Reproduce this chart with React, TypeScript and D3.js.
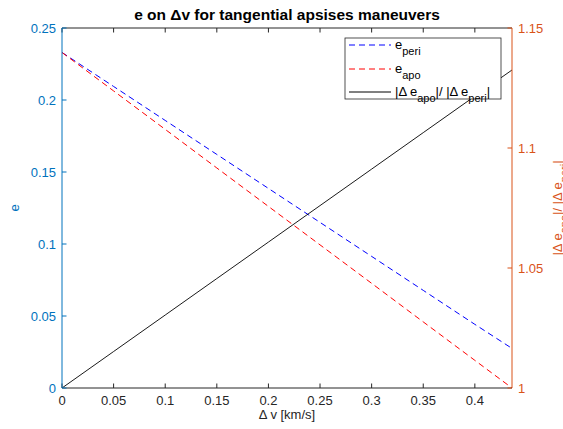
import React from 'react';
import * as d3 from 'd3';

// delta v [km/s]
const dv = [0, 0.05, 0.1, 0.15, 0.2, 0.25, 0.3, 0.35, 0.4, 0.436];
// eccentricity after perigee burn / apogee burn
const ePeri = [0.233, 0.2094, 0.1858, 0.1622, 0.1386, 0.115, 0.0914, 0.0678, 0.0442, 0.0275];
const eApo = [0.233, 0.2063, 0.1796, 0.1528, 0.1261, 0.0994, 0.0727, 0.0459, 0.0192, 0];
// ratio |de_apo| / |de_peri|
const ratio = [1, 1.0152, 1.0304, 1.0456, 1.0608, 1.076, 1.0912, 1.1064, 1.1216, 1.1325];

const xTicks = [0, 0.05, 0.1, 0.15, 0.2, 0.25, 0.3, 0.35, 0.4];
const yLeftTicks = [0, 0.05, 0.1, 0.15, 0.2, 0.25];
const yRightTicks = [1, 1.05, 1.1, 1.15];

const W = 563, H = 429;
const m = { left: 62, right: 512, top: 28, bottom: 388 };
const BLUE_AX = '#0072BD';
const ORANGE_AX = '#D95319';
const AX = '#262626';
const font = 'Liberation Sans, Arial, sans-serif';

export default function App() {
    const x = d3.scaleLinear().domain([0, 0.436]).range([m.left, m.right]);
    const yL = d3.scaleLinear().domain([0, 0.25]).range([m.bottom, m.top]);
    const yR = d3.scaleLinear().domain([1, 1.15]).range([m.bottom, m.top]);

    const lineL = (vals: number[]) =>
        d3.line<number>().x((_, i) => x(dv[i])).y(d => yL(d))(vals) as string;
    const lineR = d3.line<number>().x((_, i) => x(dv[i])).y(d => yR(d))(ratio) as string;

    const tk = 4.5;
    const fmt = (v: number) => String(v);

    // legend
    const lg = { x: 345, y: 38, w: 156, h: 61 };
    const rows = [45, 69, 92];

    return (
        <svg width={W} height={H} style={{ position: 'absolute', left: 0, top: 0, background: '#fff' }}
            fontFamily={font}>
            <rect width={W} height={H} fill="#fff" />
            <defs>
                <clipPath id="plot"><rect x={m.left} y={m.top} width={m.right - m.left} height={m.bottom - m.top} /></clipPath>
            </defs>

            {/* data */}
            <g clipPath="url(#plot)" fill="none">
                <path d={lineL(ePeri)} stroke="#0000FF" strokeWidth={1} strokeDasharray="6,4" />
                <path d={lineL(eApo)} stroke="#FF0000" strokeWidth={1} strokeDasharray="6,4" />
                <path d={lineR} stroke="#000" strokeWidth={0.9} />
            </g>

            {/* bottom & top axes */}
            <line x1={m.left} x2={m.right} y1={m.bottom} y2={m.bottom} stroke={AX} />
            <line x1={m.left} x2={m.right} y1={m.top} y2={m.top} stroke={AX} />
            {xTicks.map(t => (
                <g key={'x' + t}>
                    <line x1={x(t)} x2={x(t)} y1={m.bottom} y2={m.bottom - tk} stroke={AX} />
                    <line x1={x(t)} x2={x(t)} y1={m.top} y2={m.top + tk} stroke={AX} />
                    <text x={x(t)} y={m.bottom + 17} textAnchor="middle" fontSize={13} fill={AX}>{fmt(t)}</text>
                </g>
            ))}
            <text x={(m.left + m.right) / 2} y={419} textAnchor="middle" fontSize={13} fill={AX}>Δ v [km/s]</text>

            {/* left axis */}
            <line x1={m.left} x2={m.left} y1={m.top} y2={m.bottom} stroke={BLUE_AX} />
            {yLeftTicks.map(t => (
                <g key={'l' + t}>
                    <line x1={m.left} x2={m.left + tk} y1={yL(t)} y2={yL(t)} stroke={BLUE_AX} />
                    <text x={m.left - 6} y={yL(t) + 4.5} textAnchor="end" fontSize={13} fill={BLUE_AX}>{fmt(t)}</text>
                </g>
            ))}
            <text transform={`translate(19,${(m.top + m.bottom) / 2}) rotate(-90)`} textAnchor="middle"
                fontSize={13} fill={BLUE_AX}>e</text>

            {/* right axis */}
            <line x1={m.right} x2={m.right} y1={m.top} y2={m.bottom} stroke={ORANGE_AX} />
            {yRightTicks.map(t => (
                <g key={'r' + t}>
                    <line x1={m.right} x2={m.right - tk} y1={yR(t)} y2={yR(t)} stroke={ORANGE_AX} />
                    <text x={m.right + 6} y={yR(t) + 4.5} textAnchor="start" fontSize={13} fill={ORANGE_AX}>{fmt(t)}</text>
                </g>
            ))}
            <text transform={`translate(562,${(m.top + m.bottom) / 2}) rotate(-90)`} textAnchor="middle"
                fontSize={13} fill={ORANGE_AX}>
                |Δ e<tspan baselineShift="sub" fontSize={11}>apo</tspan>|/ |Δ e<tspan baselineShift="sub" fontSize={11}>peri</tspan>|
            </text>

            {/* title */}
            <text x={(m.left + m.right) / 2} y={20} textAnchor="middle" fontSize={15.5} fontWeight="bold" fill="#000">
                e on Δv for tangential apsises maneuvers
            </text>

            {/* legend */}
            <rect x={lg.x} y={lg.y} width={lg.w} height={lg.h} fill="#fff" stroke={AX} strokeWidth={0.8} />
            <line x1={349} x2={391} y1={rows[0]} y2={rows[0]} stroke="#0000FF" strokeDasharray="6,4" />
            <text x={395} y={rows[0] + 4} fontSize={13} fill="#000">e<tspan baselineShift="sub" fontSize={11}>peri</tspan></text>
            <line x1={349} x2={391} y1={rows[1]} y2={rows[1]} stroke="#FF0000" strokeDasharray="6,4" />
            <text x={395} y={rows[1] + 4} fontSize={13} fill="#000">e<tspan baselineShift="sub" fontSize={11}>apo</tspan></text>
            <line x1={349} x2={391} y1={rows[2]} y2={rows[2]} stroke="#000" />
            <text x={395} y={rows[2] + 4} fontSize={13} fill="#000">
                |Δ e<tspan baselineShift="sub" fontSize={11}>apo</tspan>|/ |Δ e<tspan baselineShift="sub" fontSize={11}>peri</tspan>|
            </text>
        </svg>
    );
}
